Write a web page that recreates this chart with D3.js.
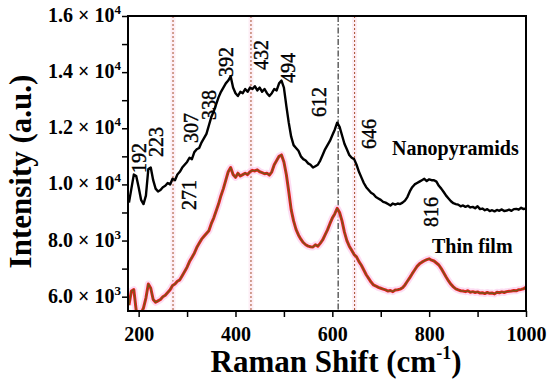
<!DOCTYPE html>
<html><head><meta charset="utf-8">
<script src="https://cdn.jsdelivr.net/npm/d3@7"></script>
<style>body{margin:0;background:#fff}svg{display:block}</style>
</head><body>
<svg id="c" width="550" height="383"></svg>
<script>
const shifts = [180,185,190,195,200,205,210,215,220,225,230,235,240,245,250,255,260,265,270,275,280,285,290,295,300,305,310,315,320,325,330,335,340,345,350,355,360,365,370,375,380,385,390,395,400,405,410,415,420,425,430,435,440,445,450,455,460,465,470,475,480,485,490,495,500,505,510,515,520,525,530,535,540,545,550,555,560,565,570,575,580,585,590,595,600,605,610,615,620,625,630,635,640,645,650,655,660,665,670,675,680,685,690,695,700,705,710,715,720,725,730,735,740,745,750,755,760,765,770,775,780,785,790,795,800,805,810,815,820,825,830,835,840,845,850,855,860,865,870,875,880,885,890,895,900,905,910,915,920,925,930,935,940,945,950,955,960,965,970,975,980,985,990,995,1000];
const nanopyramids = [9350,9850,10350,10300,9900,9450,9300,9600,10550,10600,10150,9850,9750,9800,9900,9950,10050,10000,10200,10150,10350,10450,10600,10700,10800,10950,10900,11150,11250,11300,11500,11650,11800,12100,12400,12600,12850,13100,13300,13450,13600,13700,13850,13450,13250,13150,13300,13250,13400,13300,13450,13400,13500,13350,13450,13300,13400,13250,13150,13250,13400,13350,13600,13700,13450,12800,12200,11700,11400,11300,11200,11000,10900,10850,10750,10700,10600,10650,10700,10850,11050,11250,11400,11550,11750,11950,12200,12050,11750,11450,11250,11050,10950,10900,10700,10450,10250,10050,9900,9800,9700,9650,9550,9500,9450,9380,9350,9300,9250,9320,9280,9320,9300,9350,9420,9550,9750,9900,10000,10050,10100,10150,10200,10120,10180,10150,10150,10100,9950,9850,9730,9600,9500,9400,9330,9300,9280,9220,9250,9200,9240,9180,9200,9150,9220,9120,9140,9080,9120,9050,9080,9040,9090,9060,9110,9050,9070,9100,9060,9120,9130,9100,9170,9120,9150];
const thinFilm = [5700,6200,6250,5500,5300,5400,5600,5950,6450,6300,5900,5800,5850,5900,6000,6050,6150,6250,6400,6450,6550,6600,6750,6900,7050,7250,7400,7550,7750,7900,8050,8150,8250,8350,8600,8800,9050,9300,9600,9850,10150,10450,10600,10350,10250,10400,10300,10350,10400,10350,10450,10500,10480,10520,10450,10420,10380,10400,10330,10450,10700,10850,11000,11050,10800,10350,9750,9100,8700,8400,8200,8050,7930,7850,7800,7780,7770,7850,7800,7900,8020,8200,8380,8600,8800,8950,9150,9000,8700,8300,8000,7800,7650,7500,7420,7250,7120,6950,6780,6650,6520,6420,6380,6330,6300,6270,6240,6200,6220,6180,6240,6250,6270,6320,6420,6550,6680,6820,6950,7080,7170,7230,7280,7320,7350,7300,7270,7200,7130,7000,6850,6700,6560,6440,6350,6280,6240,6210,6200,6180,6210,6160,6180,6150,6170,6130,6140,6110,6150,6120,6130,6100,6160,6140,6170,6150,6180,6190,6200,6220,6210,6250,6260,6280,6340];
const yTicks = [6000,8000,10000,12000,14000,16000];
const yTickLabels = [["6.0","3"],["8.0","3"],["1.0","4"],["1.2","4"],["1.4","4"],["1.6","4"]];
const yMinorTicks = [7000,9000,11000,13000,15000];
const xTicks = [200,300,400,500,600,700,800,900,1000];
const xTickLabels = ["200","","400","","600","","800","","1000"];
const markerLines = [271,432,612,646];
const peakLabels = [["192",192],["223",223],["307",307],["338",338],["392",392],["432",432],["494",494],["612",612],["646",646],["271",271],["816",816]];
const seriesNames = ["Nanopyramids","Thin film"];

const W=550,H=383, L=128,R=526,T=16,B=311;
const svg=d3.select("#c");
const x=d3.scaleLinear().domain([178,1000]).range([L,R]);
const y=d3.scaleLinear().domain([5490,16000]).range([B,T]);
const font="'Liberation Serif','Times New Roman',serif";

svg.append("defs").append("clipPath").attr("id","clip").append("rect")
  .attr("x",L).attr("y",T).attr("width",R-L).attr("height",B-T);
const plot=svg.append("g").attr("clip-path","url(#clip)");

// marker lines
markerLines.forEach(v=>{
  if(v!==612){
    plot.append("line").attr("x1",x(v)).attr("x2",x(v)).attr("y1",T).attr("y2",B)
      .attr("stroke","#fdeef5").attr("stroke-width",5);
  }
});
markerLines.forEach(v=>{
  const dark = v===612;
  plot.append("line").attr("x1",x(v)).attr("x2",x(v)).attr("y1",T).attr("y2",B)
    .attr("stroke",dark?"#111":"#a8502e").attr("stroke-width",1)
    .attr("stroke-dasharray",dark?"6,2,1.5,2":"2,2");
});

const line=d3.line().x((d,i)=>x(shifts[i])).y(d=>y(d)).curve(d3.curveLinear);
// thin film
plot.append("path").attr("d",line(thinFilm)).attr("fill","none")
  .attr("stroke","#fbd0ee").attr("stroke-width",7).attr("stroke-linejoin","round").attr("opacity",0.75);
plot.append("path").attr("d",line(thinFilm)).attr("fill","none")
  .attr("stroke","#ec1c1c").attr("stroke-width",3).attr("stroke-linejoin","round");
plot.append("path").attr("d",line(thinFilm)).attr("fill","none")
  .attr("stroke","#7a5418").attr("stroke-width",1.4).attr("stroke-linejoin","round");
// nanopyramids
plot.append("path").attr("d",line(nanopyramids)).attr("fill","none")
  .attr("stroke","#000").attr("stroke-width",2.4).attr("stroke-linejoin","round");

// axes
const gx=svg.append("g").attr("transform",`translate(0,${B})`)
  .call(d3.axisBottom(x).tickValues(xTicks).tickSize(6).tickFormat((d,i)=>xTickLabels[i]));
gx.select(".domain").remove();
gx.selectAll("line").attr("stroke","#000").attr("stroke-width",1.5);
gx.selectAll("text").attr("font-family",font).attr("font-weight","bold")
  .attr("font-size",20).attr("fill","#000").attr("dy","1.05em");

const gy=svg.append("g").attr("transform",`translate(${L},0)`)
  .call(d3.axisLeft(y).tickValues(yTicks.concat(yMinorTicks)).tickSize(6).tickFormat(""));
gy.select(".domain").remove();
gy.selectAll("line").attr("stroke","#000").attr("stroke-width",1.5);

yTicks.forEach((v,i)=>{
  const t=svg.append("text").attr("x",L-7).attr("y",y(v)+6).attr("text-anchor","end")
    .attr("font-family",font).attr("font-weight","bold").attr("font-size",20).attr("fill","#000");
  t.append("tspan").text(yTickLabels[i][0]+" \u00d7 10");
  t.append("tspan").attr("dy",-8).attr("font-size",13).text(yTickLabels[i][1]);
});

svg.append("rect").attr("x",L).attr("y",T).attr("width",R-L).attr("height",B-T)
  .attr("fill","none").attr("stroke","#000").attr("stroke-width",2);

// peak labels
const peakPos = {"192":[140,158],"223":[157,142],"307":[192,128],"338":[210,105],"392":[227,62],"432":[262,55],"494":[289,68],"612":[320,102],"646":[370,134],"271":[190,195],"816":[432,212]};
peakLabels.forEach(([lab,v])=>{
  const p=peakPos[lab];
  svg.append("text").attr("transform",`translate(${p[0]+6},${p[1]}) rotate(-90)`)
    .attr("text-anchor","middle").attr("font-family",font).attr("font-size",20)
    .attr("fill","#000").attr("stroke","#000").attr("stroke-width",0.4).text(lab);
});

svg.append("text").attr("x",392).attr("y",155).attr("font-family",font).attr("font-weight","bold")
  .attr("font-size",20).attr("fill","#000").text(seriesNames[0]);
svg.append("text").attr("x",432).attr("y",253).attr("font-family",font).attr("font-weight","bold")
  .attr("font-size",20).attr("fill","#000").text(seriesNames[1]);

// axis titles
svg.append("text").attr("transform",`translate(31,${(T+B)/2+8}) rotate(-90)`)
  .attr("text-anchor","middle").attr("font-family",font).attr("font-weight","bold")
  .attr("font-size",31).attr("fill","#000").text("Intensity (a.u.)");
const xt=svg.append("text").attr("x",336).attr("y",372).attr("text-anchor","middle")
  .attr("font-family",font).attr("font-weight","bold").attr("font-size",31).attr("fill","#000");
xt.append("tspan").text("Raman Shift (cm");
xt.append("tspan").attr("dy",-13).attr("font-size",18).text("-1");
xt.append("tspan").attr("dy",13).text(")");
</script>
</body></html>
